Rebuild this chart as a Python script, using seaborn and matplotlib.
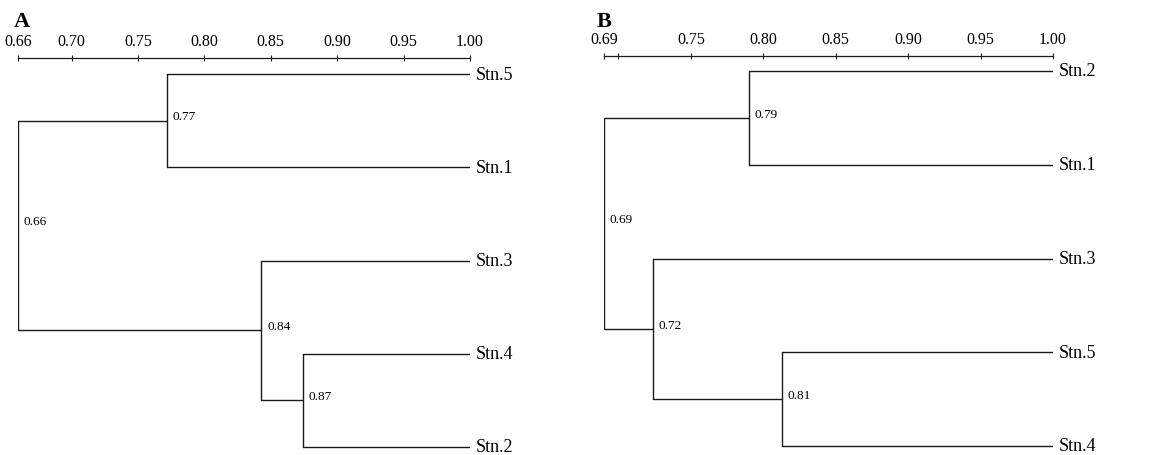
import pandas as pd
import numpy as np
import seaborn as sns
import matplotlib.pyplot as plt

# panel A: leaves top to bottom, merges like a linkage table (new cluster ids start at 5)
a_leaves = ['Stn.5', 'Stn.1', 'Stn.3', 'Stn.4', 'Stn.2']
a_left = [0, 3, 2, 5]
a_right = [1, 4, 6, 7]
a_sim = [0.772, 0.874, 0.843, 0.66]
a_ticks = [0.66, 0.70, 0.75, 0.80, 0.85, 0.90, 0.95, 1.00]
a_ticklabels = ['0.66', '0.70', '0.75', '0.80', '0.85', '0.90', '0.95', '1.00']

# panel B
b_leaves = ['Stn.2', 'Stn.1', 'Stn.3', 'Stn.5', 'Stn.4']
b_left = [0, 3, 2, 5]
b_right = [1, 4, 6, 7]
b_sim = [0.79, 0.813, 0.724, 0.69]
b_ticks = [0.69, 0.70, 0.75, 0.80, 0.85, 0.90, 0.95, 1.00]
b_ticklabels = ['0.69', '', '0.75', '0.80', '0.85', '0.90', '0.95', '1.00']

sns.set_style('white')
plt.rcParams['font.family'] = ['Liberation Serif', 'DejaVu Serif']
plt.rcParams['text.color'] = 'black'
plt.rcParams['xtick.color'] = 'black'
plt.rcParams['xtick.labelcolor'] = 'black'


def segments(leaves, left, right, sim):
    n = len(leaves)
    xpos = {i: 1.0 for i in range(n)}
    ypos = {i: float(i) for i in range(n)}
    rows = []
    seg = 0
    nodes = []
    for k in range(len(sim)):
        l, r, h = left[k], right[k], sim[k]
        for c in (l, r):
            rows.append((seg, xpos[c], ypos[c]))
            rows.append((seg, h, ypos[c]))
            seg += 1
        rows.append((seg, h, ypos[l]))
        rows.append((seg, h, ypos[r]))
        seg += 1
        new = n + k
        xpos[new] = h
        ypos[new] = (ypos[l] + ypos[r]) / 2
        nodes.append((h, ypos[new]))
    return pd.DataFrame(rows, columns=['seg', 'x', 'y']), nodes


def draw(ax, leaves, left, right, sim, ticks, ticklabels, xmin, ylim):
    df, nodes = segments(leaves, left, right, sim)
    sns.lineplot(data=df, x='x', y='y', units='seg', estimator=None, sort=False,
                 color='#1a1a1a', lw=1.0, ax=ax)
    for (h, y) in nodes:
        ax.annotate(f'{h:.2f}', (h, y), xytext=(4, 3), textcoords='offset points',
                    ha='left', va='center', fontsize=9.5, color='black')
    for i, name in enumerate(leaves):
        ax.text(1.0 + 0.004, i, name, ha='left', va='center', fontsize=13, color='black')
    ax.set_xlim(xmin, 1.0)
    ax.set_ylim(*ylim)
    for s in ['left', 'right', 'bottom']:
        ax.spines[s].set_visible(False)
    ax.spines['top'].set_linewidth(0.9)
    ax.spines['top'].set_color('#1a1a1a')
    ax.xaxis.tick_top()
    ax.set_xticks(ticks)
    ax.set_xticklabels(ticklabels, fontsize=11.5)
    ax.tick_params(axis='x', direction='inout', length=5, width=0.8, pad=4, color='#1a1a1a')
    ax.set_yticks([])
    ax.set_xlabel('')
    ax.set_ylabel('')


W, H = 1149, 456
fig = plt.figure(figsize=(W / 100, H / 100), dpi=100)

axA = fig.add_axes([18.4 / W, 0, (470 - 18.4) / W, (H - 59) / H])
draw(axA, a_leaves, a_left, a_right, a_sim, a_ticks, a_ticklabels, 0.66,
     ((456 - 75) / 93.25, -(75 - 59) / 93.25))

axB = fig.add_axes([604 / W, 0, (1053 - 604) / W, (H - 57) / H])
draw(axB, b_leaves, b_left, b_right, b_sim, b_ticks, b_ticklabels, 0.69,
     ((456 - 72) / 93.75, -(72 - 57) / 93.75))

fig.text(14 / W, 1 - 22 / H, 'A', fontsize=16, fontweight='bold', va='center', ha='left')
fig.text(597 / W, 1 - 22 / H, 'B', fontsize=16, fontweight='bold', va='center', ha='left')

fig.savefig('out.png', dpi=100)
